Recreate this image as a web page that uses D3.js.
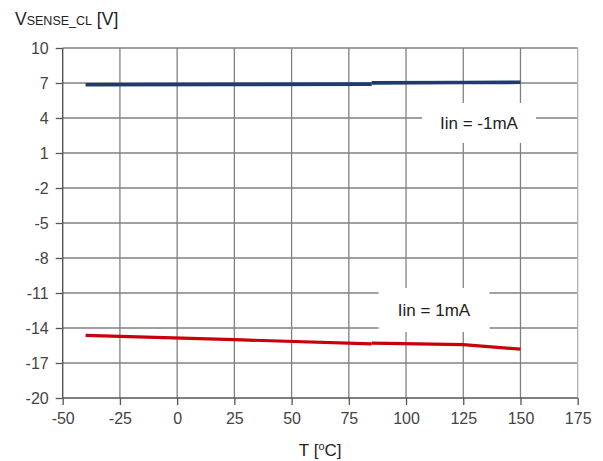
<!DOCTYPE html>
<html>
<head>
<meta charset="utf-8">
<script src="https://cdn.jsdelivr.net/npm/d3@7"></script>
<style>
  html, body { margin: 0; padding: 0; background: #fff; }
  svg { display: block; font-family: "Liberation Sans", Arial, sans-serif; }
</style>
</head>
<body>
<svg id="chart" width="603" height="461"></svg>
<script>
// Temperature axis ticks and voltage axis ticks
const xTicks = [-50, -25, 0, 25, 50, 75, 100, 125, 150, 175];
const yTicks = [10, 7, 4, 1, -2, -5, -8, -11, -14, -17, -20];

// Iin = -1mA : two measured traces
const negLowT = [-40, 25, 85];
const negLowV = [6.85, 6.88, 6.90];
const negHighT = [85, 125, 150];
const negHighV = [7.01, 7.04, 7.06];

// Iin = 1mA : two measured traces
const posLowT = [-40, 25, 85];
const posLowV = [-14.64, -15.0, -15.36];
const posHighT = [85, 125, 150];
const posHighV = [-15.30, -15.43, -15.81];

const labels = ["Iin = -1mA", "Iin = 1mA"];

const svg = d3.select("#chart");
const x = d3.scaleLinear().domain([-50, 175]).range([62.7, 577.7]);
const y = d3.scaleLinear().domain([-20, 10]).range([398, 48]);

// grid
const grid = svg.append("g");
grid.selectAll(".gx").data(xTicks.slice(1, -1)).enter().append("line")
  .attr("x1", d => x(d)).attr("x2", d => x(d))
  .attr("y1", y(10)).attr("y2", y(-20))
  .attr("stroke", "#808080").attr("stroke-width", 1.3);
grid.selectAll(".gy").data(yTicks.slice(0, -1)).enter().append("line")
  .attr("x1", x(-50)).attr("x2", x(175))
  .attr("y1", d => y(d)).attr("y2", d => y(d))
  .attr("stroke", "#808080").attr("stroke-width", 1.3);
// right border
grid.append("line")
  .attr("x1", x(175)).attr("x2", x(175)).attr("y1", y(10)).attr("y2", y(-20))
  .attr("stroke", "#b0b0b0").attr("stroke-width", 1.3);

// axes (plain hyphen-minus in labels)
const fmt = d => String(d);
const xAxis = d3.axisBottom(x).tickValues(xTicks).tickFormat(fmt).tickSize(7).tickPadding(8);
const yAxis = d3.axisLeft(y).tickValues(yTicks).tickFormat(fmt).tickSize(7).tickPadding(7);

const gx = svg.append("g").attr("transform", `translate(0,${y(-20)})`).call(xAxis);
const gy = svg.append("g").attr("transform", `translate(${x(-50)},0)`).call(yAxis);
[gx, gy].forEach(g => {
  g.select(".domain").attr("stroke", "#555").attr("stroke-width", 1.4);
  g.selectAll(".tick line").attr("stroke", "#555").attr("stroke-width", 1.3);
  g.selectAll(".tick text").attr("fill", "#444").attr("font-size", 16)
    .attr("font-family", "Liberation Sans, Arial, sans-serif");
});
gx.select(".domain").attr("d", `M${x(-50)},0H${x(175)}`);
gy.select(".domain").attr("d", `M0,${y(10)}V${y(-20)}`);

// series
const line = d3.line().x(d => x(d[0])).y(d => y(d[1]));
function trace(ts, vs, color, w) {
  svg.append("path")
    .datum(ts.map((t, i) => [t, vs[i]]))
    .attr("d", line)
    .attr("fill", "none")
    .attr("stroke", color)
    .attr("stroke-width", w);
}
trace(negLowT, negLowV, "#1f3b6e", 3.6);
trace(negHighT, negHighV, "#1f3b6e", 3.6);
trace(posLowT, posLowV, "#c8000c", 3.2);
trace(posHighT, posHighV, "#c8000c", 3.2);

// series labels with white boxes
function tag(text, cx, cy, w, h) {
  svg.append("rect").attr("x", cx - w / 2).attr("y", cy - h / 2)
    .attr("width", w).attr("height", h).attr("fill", "#fff");
  svg.append("text").attr("x", cx).attr("y", cy + 6)
    .attr("text-anchor", "middle").attr("font-size", 17).attr("fill", "#222")
    .text(text);
}
tag(labels[0], 479, 123, 114, 40);
tag(labels[1], 434, 310, 111, 44);

// axis titles
const yt = svg.append("text").attr("x", 15).attr("y", 25).attr("fill", "#222");
yt.append("tspan").attr("font-size", 17.5).text("V");
yt.append("tspan").attr("font-size", 12.5).text("SENSE_CL");
yt.append("tspan").attr("font-size", 17.5).text(" [V]");

const xt = svg.append("text").attr("x", x(62.5)).attr("y", 456)
  .attr("text-anchor", "middle").attr("fill", "#222").attr("font-size", 17);
xt.append("tspan").text("T [");
xt.append("tspan").attr("font-size", 11).attr("dy", -6).text("o");
xt.append("tspan").attr("dy", 6).text("C]");
</script>
</body>
</html>
